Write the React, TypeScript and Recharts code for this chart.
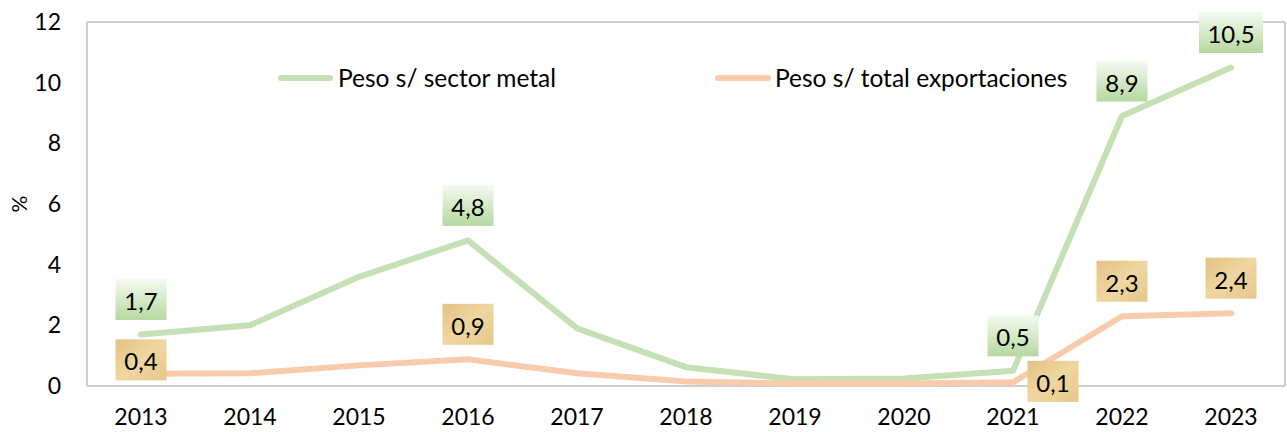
import React from 'react';
import { LineChart, Line, XAxis, YAxis, CartesianGrid, Legend, Label } from 'recharts';

const years = ['2013', '2014', '2015', '2016', '2017', '2018', '2019', '2020', '2021', '2022', '2023'];
const sectorMetal = [1.7, 2.0, 3.6, 4.8, 1.9, 0.62, 0.22, 0.25, 0.5, 8.9, 10.5];
const totalExport = [0.4, 0.42, 0.68, 0.88, 0.42, 0.15, 0.08, 0.08, 0.12, 2.3, 2.4];
const yTicks = [0, 2, 4, 6, 8, 10, 12];
const labeledIdx = [0, 3, 8, 9, 10];

const data = years.map((y, i) => ({ year: y, metal: sectorMetal[i], total: totalExport[i] }));

const FONT = 'Lato, "Open Sans", sans-serif';
const GREEN = '#c5e0b4';
const ORANGE = '#f8cbad';

const fmt = (v: number) => v.toFixed(1).replace('.', ',');

const makeLabel = (kind: 'green' | 'tan') => (props: any) => {
  const { x, y, value, index } = props;
  if (!labeledIdx.includes(index)) return null;
  let dx = 0;
  let dy = -35;
  if (kind === 'tan') {
    if (index === 0) dy = -14;
    if (index === 8) { dx = 40; dy = -1; }
  }
  const txt = fmt(value);
  const w = txt.length >= 4 ? 64 : 51;
  const h = 41;
  const cx = x + dx;
  const cy = y + dy;
  return (
    <g>
      <rect x={cx - w / 2} y={cy - h / 2} width={w} height={h} fill={kind === 'green' ? 'url(#gradGreen)' : 'url(#gradTan)'} />
      <text x={cx} y={cy + 1} textAnchor="middle" dominantBaseline="central" fontFamily={FONT} fontSize={24} fill="#000">
        {txt}
      </text>
    </g>
  );
};

const LegendContent = () => (
  <div style={{ position: 'relative', height: 30, fontFamily: FONT, fontSize: 24.5, color: '#000' }}>
    <div style={{ position: 'absolute', left: 278, top: 0, display: 'flex', alignItems: 'center', whiteSpace: 'nowrap' }}>
      <span style={{ display: 'inline-block', width: 55, height: 6, borderRadius: 3, background: GREEN, marginRight: 5 }} />
      <span>Peso s/ sector metal</span>
    </div>
    <div style={{ position: 'absolute', left: 715, top: 0, display: 'flex', alignItems: 'center', whiteSpace: 'nowrap' }}>
      <span style={{ display: 'inline-block', width: 56, height: 6, borderRadius: 3, background: ORANGE, marginRight: 4 }} />
      <span>Peso s/ total exportaciones</span>
    </div>
  </div>
);

export default function App() {
  return (
    <div style={{ position: 'absolute', left: 0, top: 0, background: '#fff' }}>
      <LineChart width={1287} height={432} data={data} margin={{ top: 22, right: 2, left: 0, bottom: 0 }}>
        <defs>
          <linearGradient id="gradGreen" x1="0" y1="0" x2="0" y2="1">
            <stop offset="0%" stopColor="#f5faf2" />
            <stop offset="60%" stopColor="#cfe6c0" />
            <stop offset="100%" stopColor="#b5d89f" />
          </linearGradient>
          <linearGradient id="gradTan" x1="0" y1="0" x2="1" y2="1">
            <stop offset="0%" stopColor="#e3c283" />
            <stop offset="50%" stopColor="#efd6a0" />
            <stop offset="100%" stopColor="#e6c78b" />
          </linearGradient>
        </defs>
        <CartesianGrid
          stroke="#bfbfbf"
          strokeWidth={1.5}
          horizontalCoordinatesGenerator={(p: any) => [p.offset.top, p.offset.top + p.offset.height]}
          verticalCoordinatesGenerator={(p: any) => [p.offset.left, p.offset.left + p.offset.width]}
        />
        <XAxis
          dataKey="year"
          axisLine={false}
          tickLine={false}
          tickSize={0}
          tickMargin={23}
          height={46}
          padding={{ left: 54, right: 54 }}
          tick={{ fontFamily: FONT, fontSize: 23, fill: '#000' }}
          interval={0}
        />
        <YAxis
          domain={[0, 12]}
          ticks={yTicks}
          axisLine={false}
          tickLine={false}
          tickSize={0}
          tickMargin={26}
          width={87}
          tick={{ fontFamily: FONT, fontSize: 23, fill: '#000' }}
        >
          <Label
            content={(p: any) => {
              const vb = p.viewBox;
              const cy = vb.y + vb.height / 2;
              return (
                <text x={18} y={cy} transform={`rotate(-90, 18, ${cy})`} textAnchor="middle" dominantBaseline="central" fontFamily={FONT} fontSize={21} fill="#000">
                  %
                </text>
              );
            }}
          />
        </YAxis>
        <Legend
          layout="horizontal"
          verticalAlign="middle"
          align="center"
          content={<LegendContent />}
          wrapperStyle={{ top: 63, left: 0, width: 1287 }}
        />
        <Line
          type="linear"
          dataKey="metal"
          name="Peso s/ sector metal"
          stroke={GREEN}
          strokeWidth={6}
          strokeLinejoin="round"
          strokeLinecap="round"
          dot={false}
          activeDot={false}
          isAnimationActive={false}
          label={makeLabel('green')}
        />
        <Line
          type="linear"
          dataKey="total"
          name="Peso s/ total exportaciones"
          stroke={ORANGE}
          strokeWidth={6}
          strokeLinejoin="round"
          strokeLinecap="round"
          dot={false}
          activeDot={false}
          isAnimationActive={false}
          label={makeLabel('tan')}
        />
      </LineChart>
    </div>
  );
}
